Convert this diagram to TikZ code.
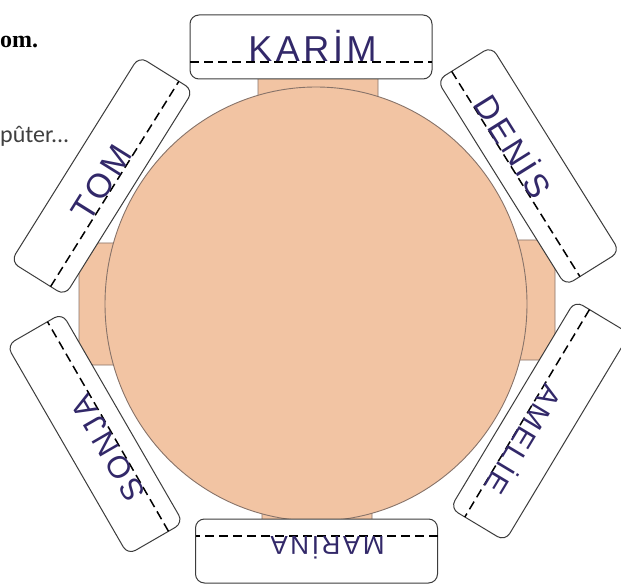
\documentclass[tikz,border=0pt]{standalone}
\usepackage{fontspec}
\setmainfont{Liberation Sans}
\newfontfamily\serifb{Liberation Serif}
\newfontfamily\calib{Carlito}
\newfontfamily\hand[LetterSpace=10]{Liberation Sans}
\definecolor{peach}{RGB}{242,196,163}
\definecolor{tableline}{RGB}{135,115,105}
\definecolor{ink}{RGB}{50,40,105}
\definecolor{cardline}{RGB}{60,60,60}
\tikzset{
  tablepart/.style={fill=peach,draw=tableline,line width=0.9pt},
  card/.style={fill=white,draw=cardline,line width=1pt,rounded corners=9pt},
  fold/.style={draw=black,line width=1.5pt,dash pattern=on 9pt off 5pt},
  handtext/.style={text=ink,inner sep=0pt},
}
\newcommand\namecard[7]{% name, cx, cy, theta, dx, size, text
  \begin{scope}[shift={(#2,#3)},rotate=#4]
    \draw[card] (-121pt,-32pt) rectangle (121pt,32pt);
    \draw[fold] (-121pt,-15pt) -- (121pt,-15pt);
    \node[handtext,rotate=#4,anchor=base,font=\hand\fontsize{#6}{#6}\selectfont] (#1) at (#5pt,-15pt) {#7};
  \end{scope}}
\begin{document}
\begin{tikzpicture}[x=1pt,y=-1pt]
\useasboundingbox (0,0) rectangle (621,585);
\fill[white] (0,0) rectangle (621,585);
% outside texts
\node[anchor=base west,inner sep=0pt] (om) at (0,48) {\serifb\bfseries\fontsize{24}{26}\selectfont om.};
\node[anchor=base west,inner sep=0pt,text=black!75] (puter) at (0,143) {\calib\fontsize{24}{26}\selectfont pûter...};
% table
\filldraw[tablepart,rounded corners=6pt] (258,55) rectangle (378,110);
\filldraw[tablepart,rounded corners=14pt] (79,243) rectangle (130,365);
\filldraw[tablepart,rounded corners=14pt] (505,240) rectangle (555,360);
\filldraw[tablepart,rounded corners=6pt] (262,490) rectangle (372,530);
\filldraw[tablepart] (316,304) ellipse [x radius=211pt, y radius=217pt];
% cards
\namecard{karim}{311}{47}{0}{1.5}{36}{KARİM}
\namecard{denis}{528.5}{166}{-58}{-25}{33}{DENİS}
\namecard{amelie}{540}{421}{-121}{24}{29}{AMELİE}
\namecard{marina}{316.5}{551}{180}{-11}{26}{MARİNA}
\namecard{sonja}{95}{434}{120}{-19}{31}{SONJA}
\namecard{tom}{102}{176}{58}{-6}{34}{TOM}
\end{tikzpicture}
\end{document}
